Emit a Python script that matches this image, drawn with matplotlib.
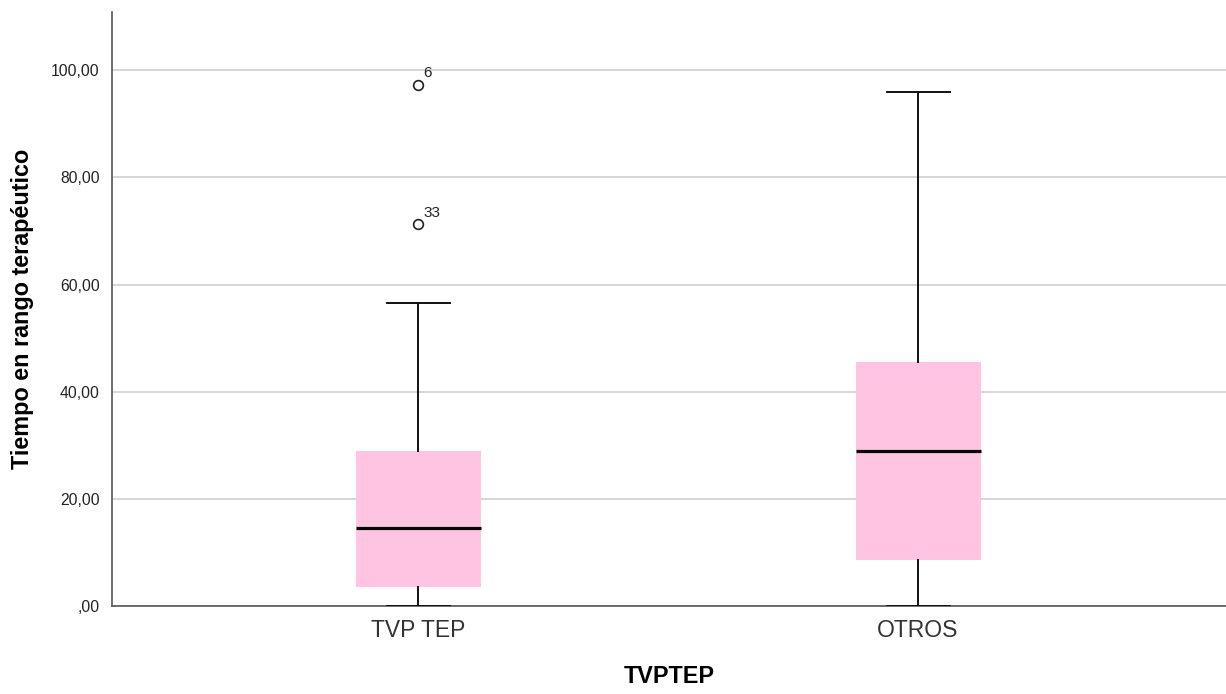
import matplotlib
matplotlib.use("Agg")
import matplotlib.pyplot as plt
from matplotlib.ticker import FuncFormatter

plt.rcParams['font.family'] = ['Liberation Sans', 'DejaVu Sans']

categories = ["TVP TEP", "OTROS"]
whislo = [0.0, 0.0]
q1 = [3.55, 8.7]
med = [14.6, 29.0]
q3 = [29.0, 45.5]
whishi = [56.6, 96.0]
outliers = [[97.3, 71.3], []]
outlier_ids = [["6", "33"], []]
yticks = [0, 20, 40, 60, 80, 100]

stats = []
for i in range(len(categories)):
    stats.append(dict(label=categories[i], whislo=whislo[i], q1=q1[i], med=med[i],
                      q3=q3[i], whishi=whishi[i], fliers=outliers[i]))

fig = plt.figure(figsize=(12.26, 6.94), dpi=100)
ax = fig.add_axes([0.0914, 0.1264, 0.9086, 0.8567])

pos = [1, 2]
ax.bxp(stats, positions=pos, widths=0.25, patch_artist=True,
       boxprops=dict(facecolor="#FFC4E1", edgecolor="#FFC4E1", linewidth=0),
       medianprops=dict(color="black", linewidth=2.3),
       whiskerprops=dict(color="#111111", linewidth=1.4),
       capprops=dict(color="#111111", linewidth=1.4),
       flierprops=dict(marker="o", markersize=7, markerfacecolor="white",
                       markeredgecolor="#222222", markeredgewidth=1.2),
       capwidths=0.126, zorder=3)

# etiquetas de casos atipicos
for i in range(len(categories)):
    for v, lab in zip(outliers[i], outlier_ids[i]):
        ax.annotate(lab, (pos[i], v), xytext=(4, 3), textcoords="offset points",
                    ha="left", va="bottom", fontsize=11, color="#222222")

ax.set_xlim(0.388, 2.616)
ax.set_ylim(0, 110.9)
ax.set_yticks(yticks)

def fmt(v, p):
    s = f"{v:.2f}".replace(".", ",")
    if s.startswith("0,"):
        s = s[1:]
    return s

ax.yaxis.set_major_formatter(FuncFormatter(fmt))
ax.grid(axis="y", color="#D0D0D0", linewidth=1.2, zorder=0)
ax.set_axisbelow(True)
ax.tick_params(axis="y", length=0, labelsize=11.3, labelcolor="#222222", pad=9)
ax.tick_params(axis="x", length=0, labelsize=16.5, labelcolor="#333333", pad=9)

for s in ["top", "right"]:
    ax.spines[s].set_visible(False)
for s in ["left", "bottom"]:
    ax.spines[s].set_color("#555555")
    ax.spines[s].set_linewidth(1.2)

ax.set_ylabel("Tiempo en rango terapéutico", fontsize=16.8, fontweight="bold", labelpad=12)
ax.set_xlabel("TVPTEP", fontsize=16.8, fontweight="bold", labelpad=17)

fig.savefig("out.png", dpi=100)
